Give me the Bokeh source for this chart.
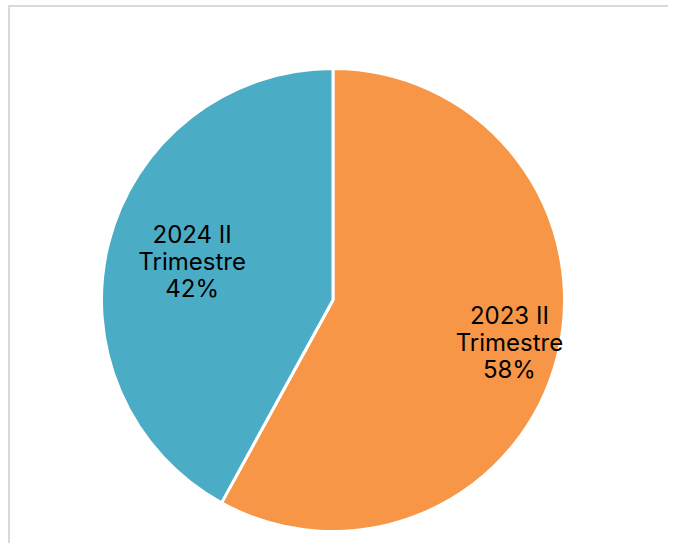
import math
from bokeh.plotting import figure
from bokeh.models import Range1d, ColumnDataSource
from bokeh.core.properties import value
from bokeh.embed import file_html
from bokeh.resources import INLINE

# Data
categories = ["2023 II Trimestre", "2024 II Trimestre"]
label_lines = ["2023 II\nTrimestre", "2024 II\nTrimestre"]
shares = [58, 42]
colors = ["#F79646", "#4BACC6"]
label_radius_factor = [0.78, 0.635]

W, H = 660, 538
cx, cy, R = 322.5, H - 292.5, 231.5

total = sum(shares)
starts, ends, lx, ly, texts = [], [], [], [], []
acc = 0.0
for i, s in enumerate(shares):
    a0 = math.pi / 2 - 2 * math.pi * acc / total
    a1 = math.pi / 2 - 2 * math.pi * (acc + s) / total
    starts.append(a0)
    ends.append(a1)
    mid = (a0 + a1) / 2
    f = label_radius_factor[i] * R
    lx.append(cx + f * math.cos(mid) + 1.5)
    ly.append(cy + f * math.sin(mid) + 2)
    texts.append(f"{label_lines[i]}\n{round(100 * s / total)}%")
    acc += s

src = ColumnDataSource(dict(start=starts, end=ends, color=colors, x=[cx] * 2, y=[cy] * 2))
lsrc = ColumnDataSource(dict(x=lx, y=ly, text=texts))

p = figure(width=W, height=H, output_backend="svg", toolbar_location=None,
           x_range=Range1d(0, W), y_range=Range1d(0, H), min_border=0)
p.axis.visible = False
p.grid.visible = False
p.outline_line_color = None
p.background_fill_color = "white"
p.border_fill_color = "white"
p.styles = {"border-left": "2px solid #D9D9D9", "border-top": "2px solid #D9D9D9",
            "margin-left": "8px", "margin-top": "5px"}

p.wedge(x="x", y="y", radius=R, start_angle="start", end_angle="end",
        direction="clock", fill_color="color", line_color="white", line_width=3,
        source=src)

p.text(x="x", y="y", text="text", source=lsrc, text_align="center",
       text_baseline="middle", text_font=value("Inter"), text_font_size="24px",
       text_color="black", text_line_height=0.93)

open("out.html", "w").write(file_html(p, INLINE))
